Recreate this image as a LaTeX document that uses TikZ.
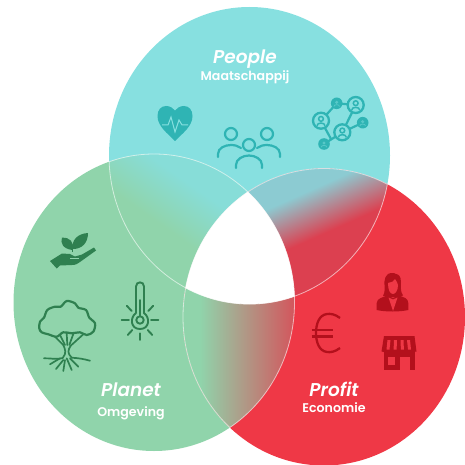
\documentclass[tikz,border=0pt]{standalone}
\usepackage{fontspec}
\setmainfont{Poppins}
\newfontfamily\titlefont{Poppins SemiBold Italic}
\newfontfamily\subfont{Poppins SemiBold}
\definecolor{peoplecol}{HTML}{87E0E0}
\definecolor{planetcol}{HTML}{90D4AB}
\definecolor{profitcol}{HTML}{EF3846}
\definecolor{peopledark}{HTML}{2FB4B4}
\definecolor{planetdark}{HTML}{2F8050}
\definecolor{profitdark}{HTML}{B3101C}
\definecolor{tlteal}{HTML}{87DDD8}
\definecolor{tpteal}{HTML}{8CCBD2}
\definecolor{tpred}{HTML}{DC4050}
\definecolor{lrred}{HTML}{D2585E}
\pgfdeclarehorizontalshading{tlramp}{100bp}{color(0bp)=(planetcol);color(45.8bp)=(planetcol);color(54.2bp)=(tlteal);color(100bp)=(tlteal)}
\pgfdeclarehorizontalshading{tpramp}{100bp}{color(0bp)=(tpteal);color(46.2bp)=(tpteal);color(53.8bp)=(tpred);color(100bp)=(tpred)}
\pgfdeclarehorizontalshading{lrramp}{100bp}{color(0bp)=(planetcol);color(42.5bp)=(planetcol);color(58bp)=(lrred);color(100bp)=(lrred)}
\def\topring{(249.5,155.5) ellipse [x radius=140.5pt, y radius=148.5pt]}
\def\leftring{(154,302.5) ellipse [x radius=140.5pt, y radius=148.5pt]}
\def\rightring{(324,317) ellipse [x radius=141pt, y radius=148.5pt]}
\tikzset{
  title/.style={text=white, font=\fontsize{18.5}{19}\titlefont, inner sep=0pt},
  subtitle/.style={text=white, font=\fontsize{12.6}{13}\subfont, inner sep=0pt},
  seam/.style={draw=white, draw opacity=.6, line width=.8pt},
  tealline/.style={draw=peopledark, line width=2.2pt, line cap=round},
  greenline/.style={draw=planetdark, line width=2.2pt, line cap=round},
  rootline/.style={draw=planetdark, line width=1.7pt, line cap=round},
}
\begin{document}
\begin{tikzpicture}[x=1pt,y=-1pt]
  \useasboundingbox (0,0) rectangle (465,465);
  % rings
  \fill[peoplecol] \topring;
  \fill[planetcol] \leftring;
  \fill[profitcol] \rightring;
  % overlaps
  \begin{scope}
    \clip \topring; \clip \leftring;
    \shade[shading=tlramp, shading angle=55] (165,197) ++(-150,-150) rectangle ++(300,300);
  \end{scope}
  \begin{scope}
    \clip \topring; \clip \rightring;
    \shade[shading=tpramp, shading angle=-66] (325,208) ++(-150,-150) rectangle ++(300,300);
  \end{scope}
  \begin{scope}
    \clip \leftring; \clip \rightring;
    \shade[shading=lrramp] (245,340) ++(-150,-150) rectangle ++(300,300);
  \end{scope}
  \begin{scope}
    \clip \topring; \clip \leftring;
    \fill[white] \rightring;
  \end{scope}
  \foreach \ringa/\ringb in {\topring/\leftring, \topring/\rightring, \leftring/\topring, \leftring/\rightring, \rightring/\topring, \rightring/\leftring} {
    \begin{scope}
      \clip \ringb;
      \draw[seam] \ringa;
    \end{scope}
  }
  % labels
  \node[title] (people) at (245,59) {People};
  \node[subtitle] (maatschappij) at (245,77) {Maatschappij};
  \node[title] (planet) at (131,390) {Planet};
  \node[subtitle] (omgeving) at (131,413) {Omgeving};
  \node[title] (profit) at (334,389) {Profit};
  \node[subtitle] (economie) at (334,408) {Economie};
  % heart
  \fill[peopledark] (175,141) .. controls (167,133) and (157.5,126) .. (157.5,116) .. controls (157.5,110) and (161,106) .. (166,106) .. controls (170,106) and (173,108) .. (175,110.5) .. controls (177,108) and (180,106) .. (184,106) .. controls (189,106) and (192.5,110) .. (192.5,116) .. controls (192.5,126) and (183,133) .. (175,141) -- cycle;
  \draw[peoplecol, line width=1pt] (162,125) -- (168,125) -- (171,117) -- (175,132) -- (179,120) -- (182,125) -- (188,125);
  % group
  \foreach \x/\y in {231/134, 267/134, 249/145} {
    \draw[tealline] (\x,\y) circle (6pt);
  }
  \draw[tealline] (218,157) -- (218,154) .. controls (218,148) and (225,145) .. (231,145) .. controls (235,145) and (238,146) .. (241,148);
  \draw[tealline] (280,157) -- (280,154) .. controls (280,148) and (273,145) .. (267,145) .. controls (263,145) and (260,146) .. (257,148);
  \draw[tealline] (236,168) -- (236,165) .. controls (236,159) and (243,155.5) .. (249,155.5) .. controls (255,155.5) and (262,159) .. (262,165) -- (262,168);
  % network
  \coordinate (neta) at (321,120.7);
  \coordinate (netb) at (355.7,105);
  \coordinate (netc) at (342.3,132.3);
  \coordinate (netd) at (336.7,103.3);
  \coordinate (nete) at (362.7,122.7);
  \coordinate (netf) at (324,144);
  \coordinate (netg) at (331,139);
  \draw[tealline] (neta) -- (netd) -- (netb) -- (netc) -- (nete);
  \draw[tealline] (neta) -- (netg);
  \draw[tealline] (netf) -- (netc);
  \foreach \x/\y in {321/120.7, 355.7/105, 342.3/132.3} {
    \fill[peoplecol] (\x,\y) circle (8pt);
    \draw[peopledark, line width=2.3pt] (\x,\y) circle (8pt);
    \draw[peopledark, line width=1.5pt] (\x,\y-1.8) circle (2.4pt);
    \draw[peopledark, line width=1.5pt] (\x-4,\y+5) .. controls (\x-4,\y+1.5) and (\x+4,\y+1.5) .. (\x+4,\y+5);
  }
  \foreach \x/\y in {336.7/103.3, 362.7/122.7, 324/144} {
    \fill[peopledark] (\x,\y) circle (5.8pt);
    \fill[peoplecol!45!peopledark] (\x,\y-1) circle (1.7pt);
    \draw[peoplecol!45!peopledark, line width=.8pt] (\x-2.8,\y+3.2) .. controls (\x-2.8,\y+.8) and (\x+2.8,\y+.8) .. (\x+2.8,\y+3.2);
  }
  % hand with plant
  \fill[planetdark] (72.5,250) .. controls (63,249) and (60,243) .. (62,237.5) .. controls (69,237) and (75,242) .. (72.5,250) -- cycle;
  \fill[planetdark] (73,249) .. controls (71,240) and (78,233.5) .. (88,233) .. controls (88,243) and (82,249) .. (73,249) -- cycle;
  \draw[planetdark, line width=1.3pt] (72.5,245) -- (72.5,252);
  \fill[planetdark] (50,261) -- (56.7,268.5) -- (60,265.5) -- (72,265) .. controls (76,265) and (78,263.5) .. (80,262) -- (96,250.5) -- (94,247.5) -- (82,254.5) -- (75,256.5) -- (70,254) -- (62,253.5) -- cycle;
  \draw[planetcol, line width=.9pt] (70,258.5) -- (79,258.5);
  % tree
  \draw[greenline, line join=round] plot[smooth cycle, tension=.55] coordinates {(39.3,328.3) (40,321.7) (44,317.7) (47.3,310) (55,306.7) (60.7,306.7) (66.7,301) (75,303.3) (78.3,307.7) (86,310) (89.3,317.7) (95,323.3) (93.3,331.7) (86.7,335) (80,332.3) (71.7,333.3) (63.3,332.3) (56.7,336.7) (48.3,334.3) (41.7,332.3)};
  \foreach \xa/\ya/\xb/\yb in {55/336.7/63.3/345, 60/335/65/345, 66.7/333.3/67.3/345, 73.3/334/69.3/345, 83.3/334.3/70.7/345.7, 60/358.3/50/364.3, 63.3/360/56/369, 65/360/63.3/371, 66.7/358.3/71.7/370, 70/358.3/78.3/366.7} {
    \draw[rootline] (\xa,\ya) -- (\xb,\yb);
  }
  \draw[rootline] (63.3,345) .. controls (65,349) and (67,353) .. (62.7,358) .. controls (58,360) and (50,358) .. (44,358.3);
  \draw[rootline] (70.7,345.7) .. controls (68,350) and (67,353) .. (71.7,357.7) .. controls (78,358) and (84,359) .. (90,360.7);
  % thermometer
  \draw[greenline, line width=1.9pt] (136,313) -- (136,286.5) .. controls (136,281) and (144,281) .. (144,286.5) -- (144,313) .. controls (150,317) and (150,329) .. (140,329) .. controls (130,329) and (130,317) .. (136,313);
  \draw[greenline, line width=1.9pt] (140,320) circle (3.7pt);
  \draw[greenline, line width=1.9pt] (140,300) -- (140,316);
  \foreach \xa/\ya/\xb/\yb in {121.7/320/129/320, 151/320/158.3/320, 140/333.3/140/340, 126.7/305.7/131.7/311, 153.3/305.7/148.3/311, 127.7/335/132.3/330, 152.3/335/147.7/330} {
    \draw[greenline, line width=1.9pt] (\xa,\ya) -- (\xb,\yb);
  }
  % woman
  \fill[profitdark] (392,273) .. controls (385,273) and (384,280) .. (384.5,286) .. controls (385,292) and (384,294) .. (383,296) -- (389,297) -- (398,297) -- (403,295.5) .. controls (400,292) and (401,285) .. (401,282) .. controls (401,276) and (398,274) .. (396,274) .. controls (395,273) and (393,273) .. (392,273) -- cycle;
  \fill[profitcol] (388,283) .. controls (391,283) and (394,281) .. (395,279) .. controls (396,281) and (398,283) .. (398,285) .. controls (398,291) and (395,294) .. (393,294) .. controls (390,294) and (388,290) .. (388,283) -- cycle;
  \fill[profitdark] (376.7,310) -- (376.7,303) .. controls (377,298) and (383,297.5) .. (387,295.5) -- (393,298) -- (399,295.5) .. controls (404,297.5) and (408,298) .. (408.3,303) -- (408.3,310) .. controls (400,312) and (385,312) .. (376.7,310) -- cycle;
  \fill[profitcol] (388.5,297.5) -- (393,311) -- (397.5,297.5) -- (393,299.5) -- cycle;
  % euro
  \draw[draw=profitdark, line width=2.3pt] (340,318) .. controls (335,314) and (330,313.5) .. (327,314) .. controls (319,315) and (316,324) .. (316,333) .. controls (316,342) and (319,351) .. (327,352) .. controls (330,352.5) and (335,352) .. (340,348);
  \draw[draw=profitdark, line width=2.3pt] (311.5,330) -- (333,330);
  \draw[draw=profitdark, line width=2.3pt] (311.5,336.5) -- (333,336.5);
  % shop
  \fill[profitdark] (384,336) -- (414.5,336) -- (416.5,351.5) .. controls (412,353) and (384,353) .. (381.5,351.5) -- cycle;
  \foreach \x/\d in {387.5/-1, 394/-.4, 400.5/.4, 407/1} {
    \fill[profitcol] (\x,340) -- (\x+3,340) -- (\x+3+\d,349.5) -- (\x+\d,349.5) -- cycle;
  }
  \fill[profitdark] (383.5,352) rectangle (415,370);
  \fill[profitcol] (387.5,357) rectangle (395,365);
  \fill[profitcol] (399.5,357) rectangle (410,370);
\end{tikzpicture}
\end{document}
